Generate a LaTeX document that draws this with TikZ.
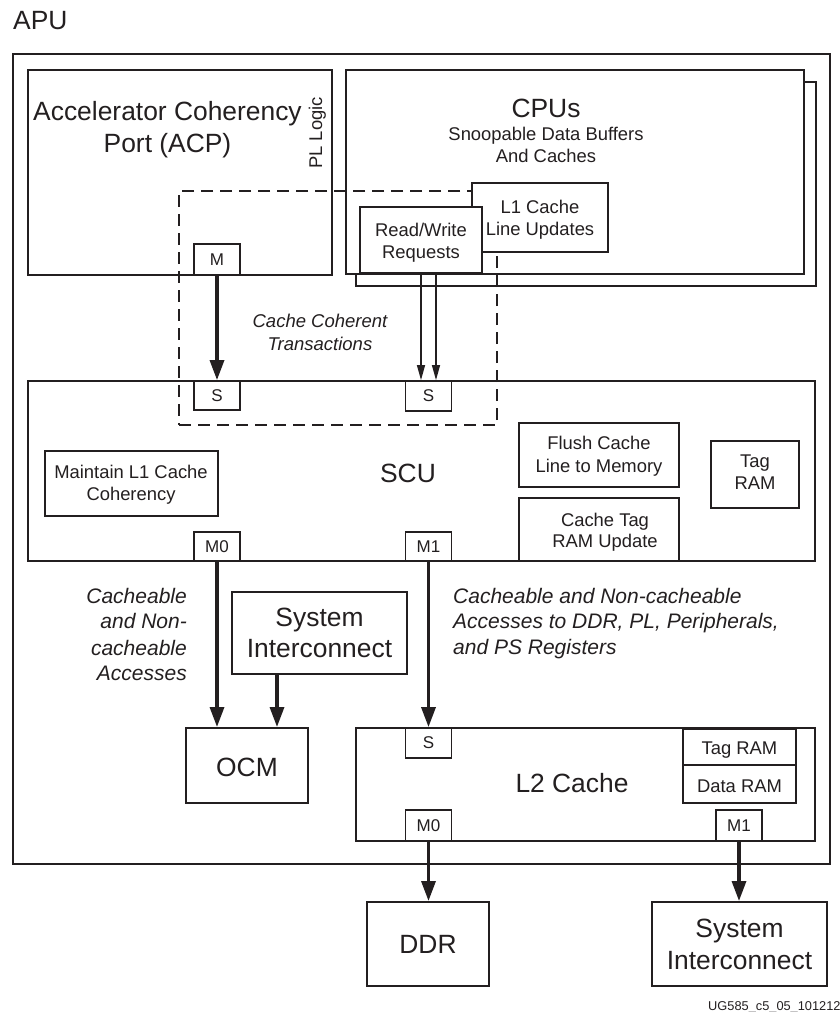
\documentclass[tikz,border=0pt]{standalone}
\usepackage{fontspec}
\setmainfont{Liberation Sans}
\usetikzlibrary{arrows.meta,fit}
\definecolor{ink}{HTML}{231F20}
\newcommand\fbig{\fontsize{26.4}{30}\selectfont}
\newcommand\fmed{\fontsize{18.4}{22}\selectfont}
\newcommand\fport{\fontsize{17}{20}\selectfont}
\newcommand\fital{\fontsize{21}{25}\selectfont\itshape}
\newcommand\fitalsm{\fontsize{18.5}{22}\selectfont\itshape}
\newcommand\ffoot{\fontsize{12.8}{14}\selectfont}
\begin{document}
\begin{tikzpicture}[x=1pt,y=-1pt,
  every node/.style={text=ink},
  box/.style={draw=ink, line width=2pt, fill=white, inner sep=0pt},
  port/.style={draw=ink, line width=1.8pt, fill=white, inner sep=0pt, minimum width=46pt, font=\fport},
  txt/.style={anchor=base, inner sep=0pt},
  bigarrow/.style={draw=ink, line width=3.3pt, -{Triangle[length=20pt,width=14pt]}},
  smallarrow/.style={draw=ink, line width=1.3pt, -{Triangle[length=15pt,width=8pt]}},
  ccstyle/.style={draw=ink, line width=1.3pt, dash pattern=on 12pt off 7pt, inner sep=0pt}
  ]
\useasboundingbox (0,0) rectangle (840,1012);

% outer APU box
\node[box, fill=none, fit={(13,54) (830,864)}] (apu) {};
\node[txt, anchor=base west, font=\fbig] (apulbl) at (13,29) {APU};

% ACP
\node[box, fit={(28,70) (332,275)}] (acp) {};
\node[txt, font=\fbig] (acp1) at (167.5,120) {Accelerator Coherency};
\node[txt, font=\fbig] (acp2) at (167.5,152) {Port (ACP)};
\node[txt, rotate=90, font=\fmed] (pl) at (322,133) {PL Logic};

% CPUs
\node[box, fit={(356,82) (816,286)}] (cpuback) {};
\node[box, fit={(346,70) (804,274)}] (cpu) {};
\node[txt, font=\fbig] (cpu1) at (546,117) {CPUs};
\node[txt, font=\fmed] (cpu2) at (546,140) {Snoopable Data Buffers};
\node[txt, font=\fmed] (cpu3) at (546,162) {And Caches};

% SCU
\node[box, fit={(28,381) (815,561)}] (scu) {};

% dashed coherent region
\node[ccstyle, fit={(179,191) (497,425)}] (cc) {};

\node[box, fit={(472,183) (608,252)}] (l1) {};
\node[txt, font=\fmed] (l1a) at (540,213) {L1 Cache};
\node[txt, font=\fmed] (l1b) at (540,235) {Line Updates};
\node[box, fit={(360,207) (482,273)}] (rw) {};
\node[txt, font=\fmed] (rwa) at (421,236) {Read/Write};
\node[txt, font=\fmed] (rwb) at (421,258) {Requests};

\node[port, minimum height=31pt] (mport) at (217,259.5) {M};
\node[port, minimum height=29pt] (s1) at (217,395.5) {S};
\node[port, minimum height=30pt] (s2) at (428.5,396) {S};
\node[port, minimum height=29pt] (m0scu) at (217,546.5) {M0};
\node[port, minimum height=29pt] (m1scu) at (428.5,546.5) {M1};

\node[txt, font=\fitalsm] (cct1) at (320,327) {Cache Coherent};
\node[txt, font=\fitalsm] (cct2) at (320,350) {Transactions};

\node[txt, font=\fbig] (scul) at (408,482) {SCU};
\node[box, fit={(45,451) (218,516)}] (maint) {};
\node[txt, font=\fmed] (mta) at (131,478) {Maintain L1 Cache};
\node[txt, font=\fmed] (mtb) at (131,500) {Coherency};
\node[box, fit={(519,423) (679,487)}] (flush) {};
\node[txt, font=\fmed] (fla) at (599,449) {Flush Cache};
\node[txt, font=\fmed] (flb) at (599,472) {Line to Memory};
\node[box, fit={(519,498) (679,561)}] (ctag) {};
\node[txt, font=\fmed] (cta) at (605,526) {Cache Tag};
\node[txt, font=\fmed] (ctb) at (605,547) {RAM Update};
\node[box, fit={(711,441) (799,508)}] (tagscu) {};
\node[txt, font=\fmed] (tsa) at (755,467) {Tag};
\node[txt, font=\fmed] (tsb) at (755,489) {RAM};

% labels between SCU and lower level
\node[txt, anchor=base east, font=\fital] (la1) at (187,603) {Cacheable};
\node[txt, anchor=base east, font=\fital] (la2) at (187,628) {and Non-};
\node[txt, anchor=base east, font=\fital] (la3) at (187,655) {cacheable};
\node[txt, anchor=base east, font=\fital] (la4) at (187,680) {Accesses};
\node[txt, anchor=base west, font=\fital] (ra1) at (453,603) {Cacheable and Non-cacheable};
\node[txt, anchor=base west, font=\fital] (ra2) at (453,628) {Accesses to DDR, PL, Peripherals,};
\node[txt, anchor=base west, font=\fital] (ra3) at (453,654) {and PS Registers};

% System interconnect (inner) and OCM
\node[box, fit={(232,592) (407,674)}] (sysin) {};
\node[txt, font=\fbig] (sia) at (319.5,626) {System};
\node[txt, font=\fbig] (sib) at (319.5,657) {Interconnect};
\node[box, fit={(186,728) (308,803)}] (ocm) {};
\node[txt, font=\fbig] (ocml) at (247,776) {OCM};

% L2 cache
\node[box, fit={(356,728) (815,841)}] (l2) {};
\node[txt, font=\fbig] (l2l) at (572,792) {L2 Cache};
\node[box, fit={(683,729) (796,765)}] (tagl2) {};
\node[txt, font=\fmed] (tagl2l) at (739.5,754) {Tag RAM};
\node[box, fit={(683,765) (796,803)}] (datal2) {};
\node[txt, font=\fmed] (datal2l) at (739.5,792) {Data RAM};
\node[port, minimum height=30pt] (sl2) at (428.5,743) {S};
\node[port, minimum height=31pt] (m0l2) at (428.5,825.5) {M0};
\node[port, minimum height=31pt] (m1l2) at (739,825.5) {M1};

% external
\node[box, fit={(367,902) (489,986)}] (ddr) {};
\node[txt, font=\fbig] (ddrl) at (428,953) {DDR};
\node[box, fit={(652,902) (827,986)}] (sysout) {};
\node[txt, font=\fbig] (soa) at (739.5,937) {System};
\node[txt, font=\fbig] (sob) at (739.5,969) {Interconnect};

\node[txt, anchor=base west, font=\ffoot] (foot) at (708,1010) {UG585\_c5\_05\_101212};

% connectors
\draw[bigarrow] (mport.south) -- (s1.north);
\draw[smallarrow] ([xshift=-7.5pt]s2.north |- rw.south) -- ([xshift=-7.5pt]s2.north);
\draw[smallarrow] ([xshift=7.5pt]s2.north |- rw.south) -- ([xshift=7.5pt]s2.north);
\draw[bigarrow] (m0scu.south) -- (m0scu.south |- ocm.north);
\draw[bigarrow] ([xshift=30pt]ocm.north |- sysin.south) -- ([xshift=30pt]ocm.north);
\draw[bigarrow] (m1scu.south) -- (sl2.north);
\draw[bigarrow] (m0l2.south) -- (m0l2.south |- ddr.north);
\draw[bigarrow] (m1l2.south) -- (m1l2.south |- sysout.north);
\end{tikzpicture}
\end{document}
